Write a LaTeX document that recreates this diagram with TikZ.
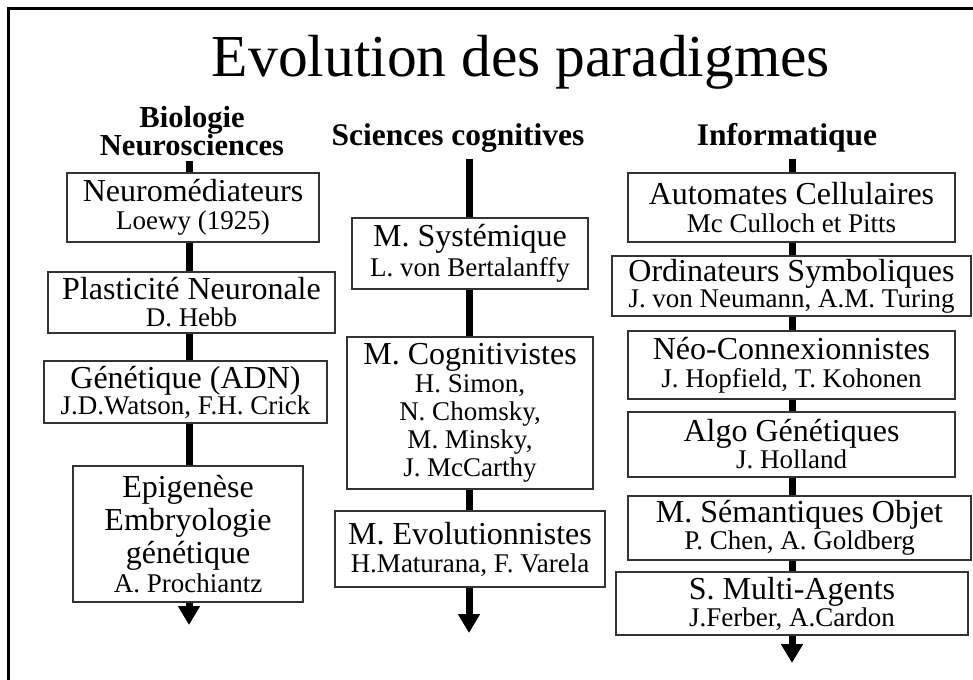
\documentclass[tikz,border=0pt]{standalone}
\usepackage{fontspec}
\setmainfont{Liberation Serif}
\usetikzlibrary{arrows.meta}

% type sizes for the boxes: first line and author lines
\newcommand\mainln{\fontsize{32}{28}\selectfont}
\newcommand\subln{\fontsize{27}{28}\selectfont}

\begin{document}
\begin{tikzpicture}[x=1pt,y=-1pt,
  box/.style={draw=black!80, line width=1.3pt, fill=white, inner sep=0pt,
              align=center, font=\mainln},
  seg/.style={line width=7pt},
  tip/.style={line width=7pt, -{Triangle[width=21pt,length=19pt]}},
  head/.style={anchor=base, font=\bfseries\fontsize{31.5}{30}\selectfont},
  headblock/.style={anchor=north, inner sep=0pt, align=center,
                    font=\bfseries\fontsize{30.5}{28.5}\selectfont},
  frame/.style={line width=3pt}]

\useasboundingbox (0,0) rectangle (973,679);

% slide frame (open to the right and bottom)
\draw[frame] (8.5,700) -- (8.5,8.5) -- (990,8.5);

% title and column headings
\node[anchor=base, font=\fontsize{59.5}{60}\selectfont] (title) at (521,77) {Evolution des paradigmes};
\node[headblock] (hbio) at (192,106) {Biologie\\Neurosciences};
\node[head] (hsci)  at (458,146) {Sciences cognitives};
\node[head] (hinf)  at (787,146) {Informatique};

% ---------- Biologie / Neurosciences ----------
\node[box, minimum width=252pt, minimum height=69pt] (neuro) at (193,207.5)
  {Neuromédiateurs\\\subln Loewy (1925)};
\node[box, minimum width=287pt, minimum height=61pt] (plast) at (191.5,302.5)
  {Plasticité Neuronale\\[-1pt]\subln D. Hebb};
\node[box, minimum width=283pt, minimum height=62pt] (gene) at (185.5,392)
  {Génétique (ADN)\\[-2pt]\subln J.D.Watson, F.H. Crick};
\node[box, minimum width=230pt, minimum height=136pt] (epi) at (188,534)
  {Epigenèse\\[3pt]Embryologie\\[3pt]génétique\\[1pt]\subln A. Prochiantz};

\coordinate (btop) at (189,161);
\coordinate (bend) at (189,625);
\draw[seg] (btop) -- (neuro.north -| btop);
\draw[seg] (neuro.south -| btop) -- (plast.north -| btop);
\draw[seg] (plast.south -| btop) -- (gene.north -| btop);
\draw[seg] (gene.south -| btop) -- (epi.north -| btop);
\draw[tip] (epi.south -| btop) -- (bend);

% ---------- Sciences cognitives ----------
\node[box, minimum width=236pt, minimum height=71pt] (syst) at (470,253.5)
  {M. Systémique\\[2pt]\subln L. von Bertalanffy};
\node[box, minimum width=246pt, minimum height=152pt] (cogn) at (470,413)
  {M. Cognitivistes\\\subln H. Simon,\\\subln N. Chomsky,\\\subln M. Minsky,\\\subln J. McCarthy};
\node[box, minimum width=270pt, minimum height=76pt] (evol) at (470,549)
  {M. Evolutionnistes\\\subln H.Maturana, F. Varela};

\coordinate (stop) at (469,159);
\coordinate (send) at (469,633);
\draw[seg] (stop) -- (syst.north -| stop);
\draw[seg] (syst.south -| stop) -- (cogn.north -| stop);
\draw[seg] (cogn.south -| stop) -- (evol.north -| stop);
\draw[tip] (evol.south -| stop) -- (send);

% ---------- Informatique ----------
\node[box, minimum width=327pt, minimum height=69pt] (auto) at (791.5,207.5)
  {Automates Cellulaires\\\subln Mc Culloch et Pitts};
\node[box, minimum width=359pt, minimum height=60pt] (ordi) at (791.5,286)
  {Ordinateurs Symboliques\\[-2pt]\subln J. von Neumann, A.M. Turing};
\node[box, minimum width=327pt, minimum height=68pt] (neoc) at (791.5,365)
  {Néo-Connexionnistes\\\subln J. Hopfield, T. Kohonen};
\node[box, minimum width=327pt, minimum height=65pt] (algo) at (791.5,444.5)
  {Algo Génétiques\\[-1pt]\subln J. Holland};
\node[box, minimum width=343pt, minimum height=64pt] (sema) at (799.5,528)
  {M. Sémantiques Objet\\[-1pt]\subln P. Chen, A. Goldberg};
\node[box, minimum width=352pt, minimum height=63pt] (masy) at (792,603.5)
  {S. Multi-Agents\\[-1pt]\subln J.Ferber, A.Cardon};

\coordinate (itop) at (792,159);
\coordinate (iend) at (792,663);
\draw[seg] (itop) -- (auto.north -| itop);
\draw[seg] (auto.south -| itop) -- (ordi.north -| itop);
\draw[seg] (ordi.south -| itop) -- (neoc.north -| itop);
\draw[seg] (neoc.south -| itop) -- (algo.north -| itop);
\draw[seg] (algo.south -| itop) -- (sema.north -| itop);
\draw[seg] (sema.south -| itop) -- (masy.north -| itop);
\draw[tip] (masy.south -| itop) -- (iend);

\end{tikzpicture}
\end{document}
